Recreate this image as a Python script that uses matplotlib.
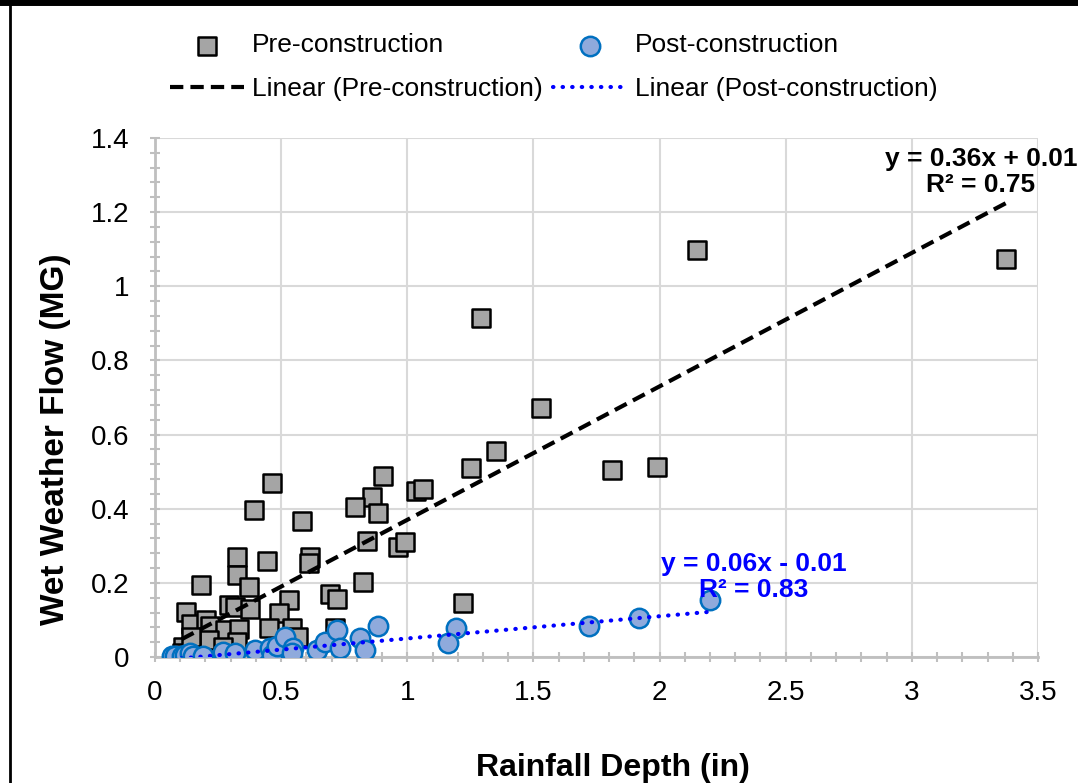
import numpy as np
import matplotlib
matplotlib.use("Agg")
import matplotlib.pyplot as plt
from matplotlib.ticker import MultipleLocator
from matplotlib.lines import Line2D

plt.rcParams['font.family'] = ['Liberation Sans', 'DejaVu Sans']

# values
pre_x = [2.148, 3.373, 1.292, 1.531, 1.352, 1.252, 1.811, 1.990, 0.904, 0.462,
         1.035, 1.061, 0.862, 0.794, 0.394, 0.884, 0.584, 0.842, 0.965, 0.992,
         0.615, 0.612, 0.325, 0.443, 0.324, 0.374, 0.184, 0.823, 0.694, 0.722,
         0.532, 1.222, 0.295, 0.317, 0.376, 0.492, 0.124, 0.144, 0.204, 0.218,
         0.278, 0.331, 0.450, 0.541, 0.566, 0.713, 0.145, 0.212, 0.325, 0.271,
         0.112, 0.106, 0.130, 0.141]
pre_y = [1.098, 1.074, 0.914, 0.671, 0.557, 0.510, 0.504, 0.512, 0.489, 0.470,
         0.448, 0.454, 0.432, 0.405, 0.397, 0.388, 0.366, 0.314, 0.296, 0.310,
         0.271, 0.253, 0.271, 0.258, 0.221, 0.189, 0.195, 0.203, 0.170, 0.156,
         0.155, 0.145, 0.140, 0.134, 0.129, 0.119, 0.122, 0.089, 0.100, 0.085,
         0.073, 0.076, 0.079, 0.077, 0.055, 0.079, 0.041, 0.047, 0.040, 0.028,
         0.028, 0.012, 0.000, 0.055]

post_x = [0.066, 0.080, 0.106, 0.120, 0.139, 0.150, 0.192, 0.271, 0.317, 0.396,
          0.456, 0.462, 0.482, 0.515, 0.548, 0.541, 0.641, 0.674, 0.720, 0.733,
          0.813, 0.832, 0.883, 1.193, 1.163, 1.720, 1.918, 2.200]
post_y = [0.003, 0.003, 0.003, 0.006, 0.011, 0.004, 0.003, 0.014, 0.010, 0.019,
          0.023, 0.005, 0.031, 0.054, 0.023, 0.010, 0.019, 0.041, 0.073, 0.023,
          0.050, 0.020, 0.084, 0.077, 0.038, 0.084, 0.105, 0.154]

# trendline coefficients as printed on the chart
pre_fit = (0.36, 0.01)
post_fit = (0.06, -0.01)
pre_eq = "y = 0.36x + 0.01\nR² = 0.75"
post_eq = "y = 0.06x - 0.01\nR² = 0.83"

x_ticks = [0, 0.5, 1, 1.5, 2, 2.5, 3, 3.5]
x_labels = ['0', '0.5', '1', '1.5', '2', '2.5', '3', '3.5']
y_ticks = [0, 0.2, 0.4, 0.6, 0.8, 1.0, 1.2, 1.4]
y_labels = ['0', '0.2', '0.4', '0.6', '0.8', '1', '1.2', '1.4']

grey_axis = '#BFBFBF'
grey_grid = '#D9D9D9'

fig = plt.figure(figsize=(10.78, 7.83), dpi=100)
ax = fig.add_axes([0.1438, 0.1609, 0.8191, 0.6629])

sq = ax.scatter(pre_x, pre_y, marker='s', s=185, facecolor='#A5A5A5',
                edgecolor='black', linewidths=1.8, zorder=3,
                label='Pre-construction')
ci = ax.scatter(post_x, post_y, marker='o', s=195, facecolor='#8FAADC',
                edgecolor='#0070C0', linewidths=1.8, zorder=4,
                label='Post-construction')

xs = np.array([min(pre_x), max(pre_x)])
lp, = ax.plot(xs, pre_fit[0] * xs + pre_fit[1], color='black', lw=3.0,
              dashes=(3.2, 1.7), zorder=5, label='Linear (Pre-construction)')
xs2 = np.array([min(post_x), max(post_x)])
lq, = ax.plot(xs2, post_fit[0] * xs2 + post_fit[1], color='#0000FF', lw=3.0,
              linestyle=(0, (0.1, 2.2)), dash_capstyle='round', zorder=5,
              label='Linear (Post-construction)')

ax.text(3.274, 1.308, pre_eq, ha='center', va='center', fontsize=19,
        fontweight='bold', color='black', linespacing=1.15, zorder=6)
ax.text(2.374, 0.216, post_eq, ha='center', va='center', fontsize=19,
        fontweight='bold', color='#0000FF', linespacing=1.15, zorder=6)

ax.set_xlim(0, 3.5)
ax.set_ylim(0, 1.4)
ax.set_xticks(x_ticks)
ax.set_xticklabels(x_labels)
ax.set_yticks(y_ticks)
ax.set_yticklabels(y_labels)
ax.xaxis.set_minor_locator(MultipleLocator(0.1))
ax.yaxis.set_minor_locator(MultipleLocator(0.04))

ax.grid(True, which='major', color=grey_grid, lw=1.5, zorder=0)
ax.set_axisbelow(True)
for side in ['top', 'right']:
    ax.spines[side].set_visible(False)
for side in ['left', 'bottom']:
    ax.spines[side].set_color(grey_axis)
    ax.spines[side].set_linewidth(2.0)

ax.tick_params(which='both', direction='inout', color=grey_axis, width=1.5,
               labelsize=20, labelcolor='black')
ax.tick_params(which='major', length=7)
ax.tick_params(which='minor', length=7)
ax.tick_params(axis='x', pad=13)
ax.tick_params(axis='y', pad=15)

ax.set_xlabel('Rainfall Depth (in)', fontsize=23, fontweight='bold')
ax.xaxis.set_label_coords(0.519, -0.185)
ax.set_ylabel('Wet Weather Flow (MG)', fontsize=24, fontweight='bold')
ax.yaxis.set_label_coords(-0.095, 0.42)

fig.legend(handles=[sq, lp, ci, lq], ncol=2, loc='center',
           bbox_to_anchor=(0.5135, 0.914), frameon=False, fontsize=19,
           handlelength=2.8, handletextpad=0.3, columnspacing=0.4,
           labelspacing=0.75, borderaxespad=0)

# outer frame of the cropped chart
fig.add_artist(Line2D([0.0095, 0.0095], [0, 0.995], transform=fig.transFigure,
                      color='black', lw=2))
fig.add_artist(Line2D([0, 1], [0.997, 0.997], transform=fig.transFigure,
                      color='black', lw=5))

fig.savefig('out.png', dpi=100)
